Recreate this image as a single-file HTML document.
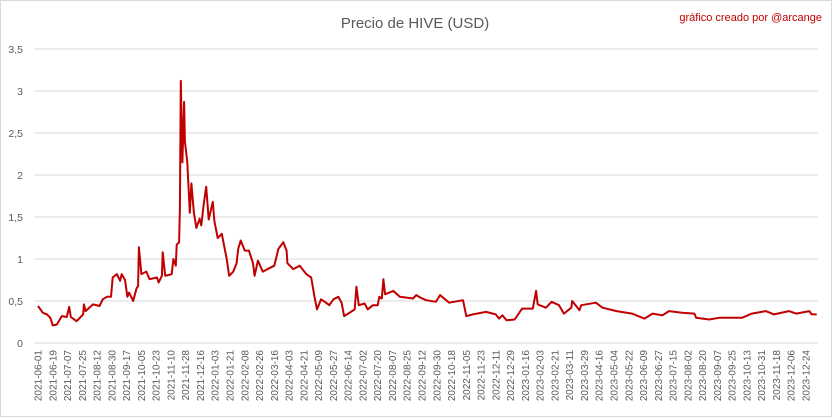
<!DOCTYPE html>
<html><head><meta charset="utf-8"><style>
body{margin:0;background:#fff}
svg{display:block;font-family:"Liberation Sans",sans-serif}
</style></head><body>
<svg id="c" width="832" height="417">
<rect x="0.5" y="0.5" width="831" height="416" fill="#fff" stroke="#d9d9d9"/>
<text x="415" y="28" text-anchor="middle" font-size="15" fill="#595959">Precio de HIVE (USD)</text>
<text x="822" y="21" text-anchor="end" font-size="11" fill="#c00000">gráfico creado por @arcange</text>
<g id="grid"></g><g id="yl"></g><g id="xl"></g><g id="ln"></g>
</svg>
<script>
const days=[0,6,11,15,18,23,29,35,38,40,47,55,56,58,67,75,79,84,89,91,96,100,102,106,109,111,116,120,122,123,126,132,136,145,147,151,152,155,163,165,168,169,172,173,174,176,178,179,182,185,187,190,193,197,199,202,205,208,213,215,219,224,230,233,238,242,244,247,252,257,262,264,268,274,282,288,293,299,303,304,311,319,327,333,337,340,345,351,355,360,366,370,373,378,386,388,391,398,402,408,414,416,419,421,423,433,441,449,457,461,466,473,485,490,501,518,522,530,546,558,562,566,571,581,590,603,607,609,619,626,635,641,650,651,660,662,680,688,705,724,739,749,761,769,785,800,802,818,830,858,870,887,897,915,924,940,943,949];
const prices=[0.44,0.36,0.34,0.30,0.21,0.22,0.32,0.31,0.43,0.31,0.26,0.34,0.46,0.38,0.46,0.44,0.52,0.55,0.55,0.78,0.82,0.74,0.82,0.75,0.55,0.60,0.50,0.65,0.68,1.14,0.82,0.85,0.76,0.78,0.72,0.80,1.08,0.80,0.82,1.0,0.92,1.17,1.2,1.6,3.12,2.15,2.87,2.4,2.15,1.55,1.9,1.55,1.37,1.48,1.4,1.65,1.86,1.47,1.68,1.45,1.25,1.30,1.0,0.80,0.85,0.95,1.12,1.22,1.10,1.1,0.95,0.80,0.98,0.85,0.89,0.92,1.12,1.2,1.1,0.95,0.88,0.92,0.82,0.78,0.55,0.40,0.52,0.48,0.45,0.52,0.55,0.48,0.32,0.35,0.40,0.67,0.45,0.47,0.40,0.45,0.45,0.55,0.53,0.76,0.58,0.62,0.55,0.54,0.53,0.57,0.54,0.51,0.49,0.57,0.48,0.51,0.32,0.34,0.37,0.34,0.29,0.33,0.27,0.28,0.41,0.41,0.62,0.46,0.42,0.49,0.45,0.35,0.42,0.50,0.39,0.45,0.48,0.42,0.38,0.35,0.29,0.35,0.33,0.38,0.36,0.35,0.30,0.28,0.30,0.30,0.35,0.38,0.34,0.38,0.35,0.38,0.34,0.34];
const yTicks=[0,0.5,1,1.5,2,2.5,3,3.5];
const yTickLabels=["0","0,5","1","1,5","2","2,5","3","3,5"];
const NS='http://www.w3.org/2000/svg';
const X=d=>38+d*(768/936);
const Y=v=>343-v*84;
function mk(t,a,p){const e=document.createElementNS(NS,t);for(const k in a)e.setAttribute(k,a[k]);p.appendChild(e);return e;}
const g=document.getElementById('grid'),yl=document.getElementById('yl'),xl=document.getElementById('xl'),ln=document.getElementById('ln');
yTicks.forEach((v,i)=>{
 const l=mk('line',{x1:35,x2:818,y1:Y(v),y2:Y(v),stroke:'#d9d9d9','stroke-width':1},g);
 
 
 const t=mk('text',{x:23,y:Y(v)+4,'text-anchor':'end','font-size':10.5,fill:'#595959'},yl);
 t.textContent=yTickLabels[i];
 
 
});
const start=Date.UTC(2021,5,1);
for(let i=0;i<=52;i++){
 const d=i*18;const dt=new Date(start+d*864e5);
 const s=dt.toISOString().slice(0,10);
 const x=X(d)+3.5,y=350;
 const t=mk('text',{x:x,y:y,'text-anchor':'end','font-size':10,fill:'#595959',transform:`rotate(-90 ${x} ${y})`},xl);
 t.textContent=s;
 
 
}
const p=mk('polyline',{points:days.map((d,i)=>X(d).toFixed(1)+','+Y(prices[i]).toFixed(1)).join(' '),fill:'none',stroke:'#c00000','stroke-width':2,'stroke-linejoin':'round'},ln);


</script>
</body></html>
